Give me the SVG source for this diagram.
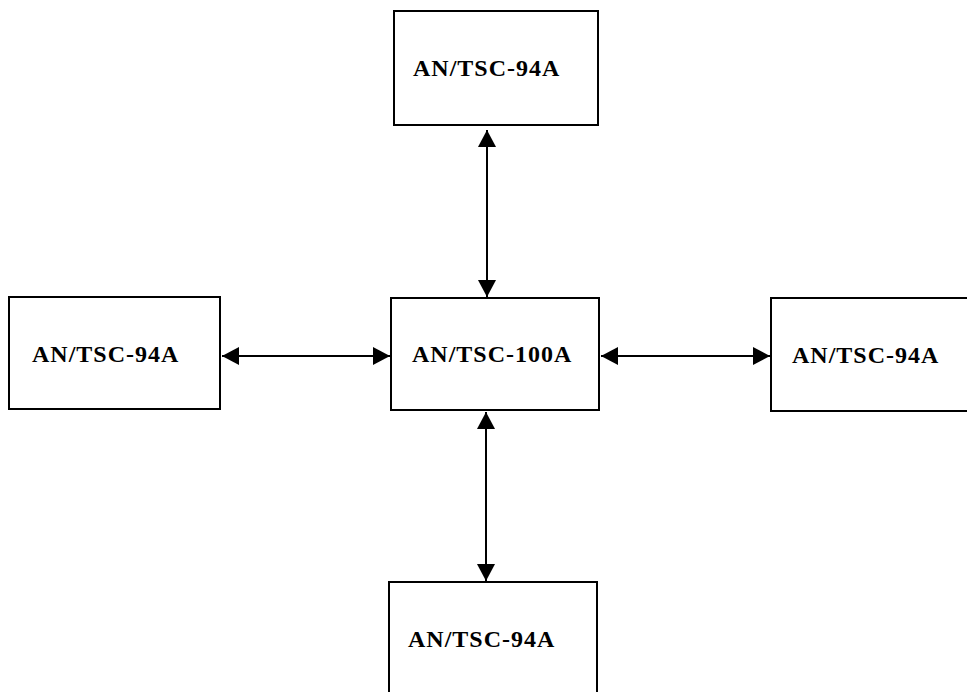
<svg xmlns="http://www.w3.org/2000/svg" width="967" height="692" viewBox="0 0 967 692">
<style>
.box{fill:#fff;stroke:#000;stroke-width:2}
.lbl{font-family:"Liberation Serif","Times New Roman",serif;font-weight:bold;font-size:24px;letter-spacing:1px;fill:#000}
.conn{stroke:#000;stroke-width:2;fill:none;marker-start:url(#ah);marker-end:url(#ah)}
</style>
<defs>
<marker id="ah" viewBox="0 0 17 18" refX="17" refY="9" markerWidth="17" markerHeight="18" markerUnits="userSpaceOnUse" orient="auto-start-reverse">
<path d="M0,0 L17,9 L0,18 Z" fill="#000"/>
</marker>
</defs>
<rect width="967" height="692" fill="#fff"/>
<g id="node-top"><rect class="box" x="394" y="11" width="204" height="114"/><text class="lbl" x="413" y="76">AN/TSC-94A</text></g>
<g id="node-left"><rect class="box" x="9" y="297" width="211" height="112"/><text class="lbl" x="32" y="362">AN/TSC-94A</text></g>
<g id="node-center"><rect class="box" x="391" y="298" width="208" height="112"/><text class="lbl" x="412" y="362">AN/TSC-100A</text></g>
<g id="node-right"><rect class="box" x="771" y="298" width="210" height="113"/><text class="lbl" x="792" y="363">AN/TSC-94A</text></g>
<g id="node-bottom"><rect class="box" x="389" y="582" width="208" height="120"/><text class="lbl" x="408" y="647">AN/TSC-94A</text></g>
<g id="connectors">
<line class="conn" x1="487" y1="130" x2="487" y2="297"/>
<line class="conn" x1="486" y1="412" x2="486" y2="581"/>
<line class="conn" x1="222" y1="356" x2="390" y2="356"/>
<line class="conn" x1="601" y1="356" x2="770" y2="356"/>
</g>
</svg>
